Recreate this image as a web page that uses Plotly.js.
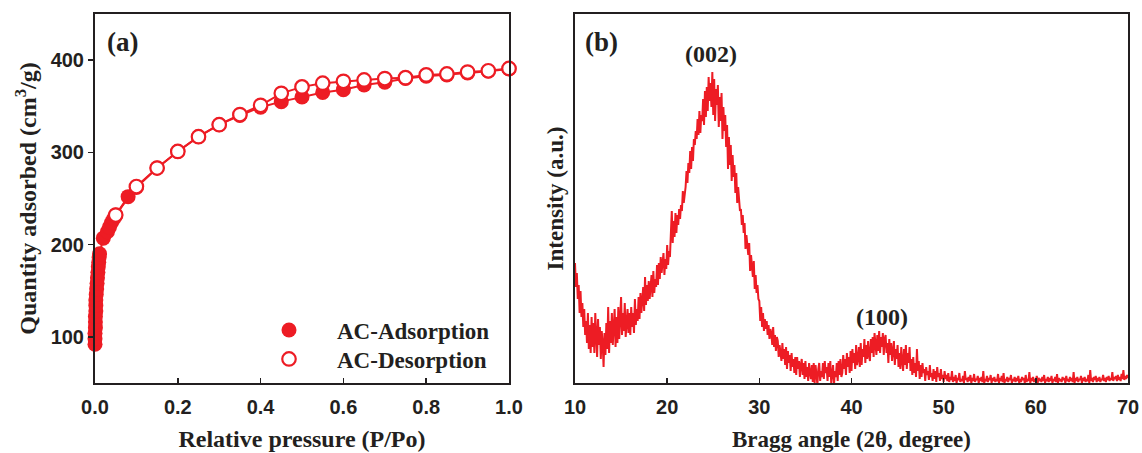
<!DOCTYPE html>
<html>
<head>
<meta charset="utf-8">
<script src="https://cdn.plot.ly/plotly-3.0.1.min.js"></script>
<style>html,body{margin:0;padding:0;background:#fff;}#chart{width:1142px;height:453px;}</style>
</head>
<body>
<div id="chart"></div>
<script>
// (a) N2 isotherm
var adsX = [0.000,0.000,0.000,0.001,0.001,0.001,0.002,0.002,0.002,0.003,0.004,0.005,0.006,0.007,0.008,0.009,0.010,0.011,0.020,0.030,0.035,0.040,0.045,0.050,0.080,0.10,0.15,0.20,0.25,0.30,0.35,0.40,0.45,0.50,0.55,0.60,0.65,0.70,0.75,0.80,0.85,0.90,0.95,1.00];
var adsY = [92,98,104,110,116,122,128,134,140,146,152,158,164,170,176,181,186,190,207,214,219,224,228,232,252,262,283,301,317,330,340,349,355,360,365,368,373,376,380,382.5,384,386,388,390.5];
var desX = [0.05,0.10,0.15,0.20,0.25,0.30,0.35,0.40,0.45,0.50,0.55,0.60,0.65,0.70,0.75,0.80,0.85,0.90,0.95,1.00];
var desY = [232,263,283,301,317,330,341,351,364,371,375,377,378.5,380,381,384,385,387,388.5,391];

// (b) XRD pattern, 2theta from 10 to 70 in 0.1 degree steps
var xrdStart = 10, xrdStep = 0.1;
var xrdI = [
 120,96,110,84,98,70,92,66,80,56,
 74,48,62,40,70,34,58,30,66,36,
 60,30,70,44,26,64,38,56,24,52,
 40,16,50,28,60,34,76,30,62,40,
 70,38,58,74,36,66,40,76,44,60,
 86,48,70,52,80,46,66,74,50,70,
 48,76,56,70,50,84,58,74,62,86,
 64,90,70,84,96,72,106,78,98,82,
 102,84,94,108,86,112,90,104,96,118,
 98,120,104,126,110,118,130,108,124,114,
 138,118,132,126,150,172,140,162,146,170,
 150,168,158,174,164,178,172,192,180,188,
 196,212,200,220,210,232,214,236,222,244,
 238,252,244,264,248,272,250,268,262,284,
 258,292,266,296,272,306,282,300,276,311,
 268,304,262,294,278,298,256,286,262,290,
 244,276,252,268,236,258,214,246,218,238,
 202,228,206,218,190,210,180,196,184,172,
 174,158,168,150,160,134,148,138,128,140,
 112,128,114,106,122,94,108,90,98,84,
 82,62,76,56,70,52,64,54,62,48,
 58,44,54,50,38,56,36,48,32,46,
 42,26,38,30,22,40,24,34,18,36,
 14,32,20,28,12,30,16,24,10,26,
 8,26,14,22,6,18,24,8,20,4,
 22,6,16,2,20,10,4,18,1,20,
 0,18,8,-2,14,20,2,12,6,20,
 4,22,10,16,2,20,6,22,0,14,
 18,-2,12,6,20,2,22,8,24,6,
 10,28,14,24,8,30,16,26,10,32,
 12,34,20,30,14,38,18,24,36,16,
 40,18,34,26,44,20,38,24,42,28,
 22,44,30,46,26,50,36,28,48,32,
 52,30,46,36,50,28,44,48,30,40,
 20,44,28,40,22,36,42,18,34,24,
 38,16,30,14,36,22,12,34,18,38,
 14,30,20,36,12,24,8,26,10,20,
 6,34,12,22,4,18,6,20,10,14,
 2,16,8,12,3,18,6,10,2,14,
 4,12,1,16,6,10,2,14,4,8,
 1,12,4,8,2,10,1,6,3,12,
 1,6,2,8,0,5,3,10,1,4,
 2,7,0,12,3,5,1,6,2,8,
 0,5,2,9,1,4,3,7,0,5,
 2,6,1,12,0,4,2,7,1,5,
 3,8,0,5,2,6,1,4,2,9,
 0,5,2,7,1,10,0,4,2,6,
 1,5,3,8,0,4,2,6,1,5,
 2,7,0,4,1,6,3,5,0,8,
 1,4,2,11,0,5,2,6,1,4,
 2,7,0,5,3,4,1,6,2,8,
 0,4,2,6,1,5,2,7,0,4,
 2,6,1,9,0,5,2,4,1,6,
 3,5,0,7,2,4,1,6,2,5,
 1,11,0,5,2,6,1,4,3,7,
 0,5,2,6,1,4,2,8,0,13,
 2,5,1,6,3,7,1,5,2,6,
 1,4,3,8,2,5,1,6,3,7,
 2,5,3,11,2,6,4,7,2,8,
 3,6,2,9,4,13,3,7,4,8,
 5];
var xrdX = xrdI.map(function(_, i){ return +(xrdStart + i*xrdStep).toFixed(2); });

var leftTicks = [0.0,0.2,0.4,0.6,0.8,1.0];
var leftTickText = ['0.0','0.2','0.4','0.6','0.8','1.0'];
var leftYTicks = [100,200,300,400];
var rightTicks = [10,20,30,40,50,60,70];

var RED = '#ED1C24', INK = '#231F20';
var serif = 'Liberation Serif, Times New Roman, serif';
var sans = 'Liberation Sans, Arial, sans-serif';

var traces = [
  {x: adsX, y: adsY, xaxis:'x', yaxis:'y', mode:'lines', line:{color:RED, width:2}, showlegend:false, cliponaxis:false, hoverinfo:'skip'},
  {x: adsX, y: adsY, xaxis:'x', yaxis:'y', mode:'markers', name:'AC-Adsorption', legend:'legend', marker:{color:RED, size:15, line:{width:0}}, cliponaxis:false},
  {x: desX, y: desY, xaxis:'x', yaxis:'y', mode:'lines', line:{color:RED, width:2}, showlegend:false, cliponaxis:false, hoverinfo:'skip'},
  {x: desX, y: desY, xaxis:'x', yaxis:'y', mode:'markers', name:'AC-Desorption', legend:'legend2', marker:{color:'#ffffff', size:13.5, line:{color:RED, width:2.2}}, cliponaxis:false},
  {x: xrdX, y: xrdI, xaxis:'x2', yaxis:'y2', mode:'lines', line:{color:RED, width:2}, showlegend:false}
];

var axCommon = {showline:true, linecolor:INK, linewidth:2, mirror:true, showgrid:false, zeroline:false,
  tickfont:{family:sans, size:20, color:INK, weight:'bold'}, tickcolor:INK, tickwidth:1.5};

var legendFont = {family:serif, size:23, color:INK, weight:'bold'};

var layout = {
  width:1142, height:453,
  margin:{l:0, r:0, t:14, b:70},
  paper_bgcolor:'#fff', plot_bgcolor:'#fff',
  xaxis: Object.assign({}, axCommon, {domain:[95/1142, 509/1142], range:[0,1], tickvals:leftTicks, ticktext:leftTickText,
    ticks:'inside', ticklen:5, anchor:'y', ticklabelstandoff:5,
    title:{text:'Relative pressure (P/Po)', font:{family:serif, size:24, color:INK, weight:'bold'}, standoff:13}}),
  yaxis: Object.assign({}, axCommon, {domain:[0,1], range:[50,450], tickvals:leftYTicks, ticks:'outside', ticklen:5, anchor:'x',
    title:{text:'Quantity adsorbed (cm<sup>3</sup>/g)', font:{family:serif, size:24, color:INK, weight:'bold'}, standoff:7}}),
  xaxis2: Object.assign({}, axCommon, {domain:[575/1142, 1128/1142], range:[10,70], tickvals:rightTicks,
    ticks:'inside', ticklen:5, anchor:'y2', ticklabelstandoff:5,
    title:{text:'Bragg angle (2θ, degree)', font:{family:serif, size:23, color:INK, weight:'bold'}, standoff:14}}),
  yaxis2: Object.assign({}, axCommon, {domain:[0,1], range:[0,369], showticklabels:false, ticks:'', anchor:'x2',
    title:{text:'Intensity (a.u.)', font:{family:serif, size:23, color:INK, weight:'bold'}, standoff:3}}),
  showlegend:true,
  legend:{x:241/1142, y:(383-330)/369, xanchor:'left', yanchor:'middle', bgcolor:'rgba(0,0,0,0)', borderwidth:0,
    itemwidth:86, font:legendFont},
  legend2:{x:241/1142, y:(383-359)/369, xanchor:'left', yanchor:'middle', bgcolor:'rgba(0,0,0,0)', borderwidth:0,
    itemwidth:86, font:legendFont},
  annotations:[
    {text:'(a)', xref:'paper', yref:'paper', x:105/1142, y:(383-42)/369, xanchor:'left', yanchor:'middle', showarrow:false,
      font:{family:serif, size:27, color:INK, weight:'bold'}},
    {text:'(b)', xref:'paper', yref:'paper', x:583/1142, y:(383-42)/369, xanchor:'left', yanchor:'middle', showarrow:false,
      font:{family:serif, size:27, color:INK, weight:'bold'}},
    {text:'(002)', xref:'x2', yref:'paper', x:24.8, y:(383-54)/369, xanchor:'center', yanchor:'middle', showarrow:false,
      font:{family:serif, size:24, color:INK, weight:'bold'}},
    {text:'(100)', xref:'x2', yref:'paper', x:43.3, y:(383-317)/369, xanchor:'center', yanchor:'middle', showarrow:false,
      font:{family:serif, size:24, color:INK, weight:'bold'}}
  ]
};

Plotly.newPlot('chart', traces, layout, {staticPlot:true, displayModeBar:false});
</script>
</body>
</html>
